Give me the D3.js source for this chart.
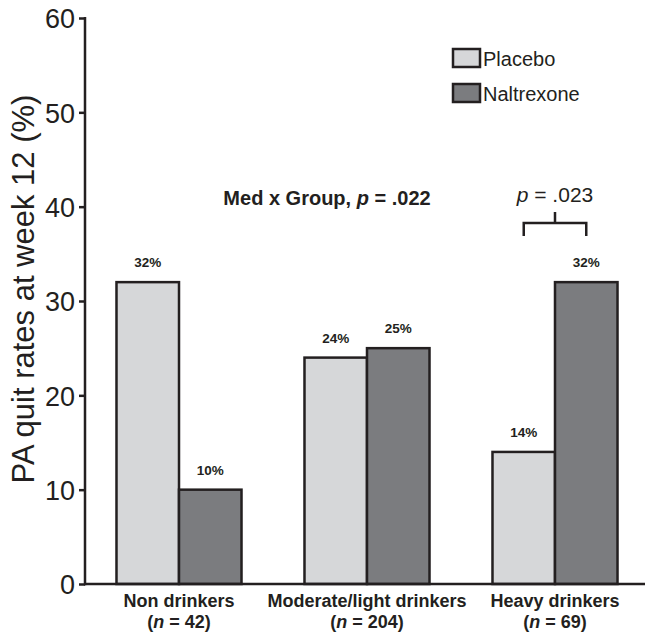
<!doctype html>
<html>
<head>
  <meta charset="utf-8">
  <title>PA quit rates</title>
  <script src="https://cdnjs.cloudflare.com/ajax/libs/d3/7.8.5/d3.min.js"></script>
  <style>
    body { margin: 0; background: #fff; }
    text { font-family: "Liberation Sans", Arial, sans-serif; fill: #231f20; }
  </style>
</head>
<body>
  <div id="chart"></div>
  <script>
    // data
    const groups = ["Non drinkers", "Moderate/light drinkers", "Heavy drinkers"];
    const groupN = ["42", "204", "69"];
    const series = ["Placebo", "Naltrexone"];
    const placebo = [32, 24, 14];
    const naltrexone = [10, 25, 32];
    const yTicks = [0, 10, 20, 30, 40, 50, 60];
    const colors = ["#d6d7d9", "#7b7c7f"];

    const width = 645, height = 633;
    const ink = "#231f20";

    const svg = d3.select("#chart").append("svg")
      .attr("width", width)
      .attr("height", height);

    const x = d3.scaleBand()
      .domain(groups)
      .range([85, 649])
      .paddingInner(0.335)
      .paddingOuter(0.1675);

    const xs = d3.scaleBand()
      .domain(series)
      .range([0, x.bandwidth()]);

    const y = d3.scaleLinear()
      .domain([0, 60])
      .range([584, 18]);

    // bars
    const rows = groups.map((g, i) => ({ g, vals: [placebo[i], naltrexone[i]] }));
    const gg = svg.selectAll("g.grp")
      .data(rows)
      .join("g")
      .attr("class", "grp")
      .attr("transform", d => `translate(${x(d.g)},0)`);

    gg.selectAll("rect")
      .data(d => d.vals.map((v, j) => ({ s: series[j], v, j })))
      .join("rect")
      .attr("x", d => xs(d.s))
      .attr("y", d => y(d.v))
      .attr("width", xs.bandwidth())
      .attr("height", d => y(0) - y(d.v))
      .attr("fill", d => colors[d.j])
      .attr("stroke", ink)
      .attr("stroke-width", 2.5);

    gg.selectAll("text.val")
      .data(d => d.vals.map((v, j) => ({ s: series[j], v })))
      .join("text")
      .attr("class", "val")
      .attr("x", d => xs(d.s) + xs.bandwidth() / 2)
      .attr("y", d => y(d.v) - 15)
      .attr("text-anchor", "middle")
      .attr("font-size", 13.5)
      .attr("font-weight", "bold")
      .text(d => d.v + "%");

    // axes
    const yAxis = svg.append("g")
      .attr("transform", "translate(85,0)")
      .call(d3.axisLeft(y).tickValues(yTicks).tickSize(6).tickPadding(4));
    yAxis.select(".domain").remove();
    yAxis.selectAll(".tick line").attr("stroke", ink).attr("stroke-width", 2.5);
    yAxis.selectAll(".tick text")
      .attr("font-size", 27)
      .attr("font-family", "Liberation Sans, Arial, sans-serif")
      .attr("fill", ink)
      .attr("dy", "0.36em");

    svg.append("line")
      .attr("x1", 85).attr("x2", 85)
      .attr("y1", y(60) - 1).attr("y2", y(0) + 1.25)
      .attr("stroke", ink).attr("stroke-width", 2.5);
    svg.append("line")
      .attr("x1", 84).attr("x2", width)
      .attr("y1", y(0)).attr("y2", y(0))
      .attr("stroke", ink).attr("stroke-width", 2.5);

    svg.append("text")
      .attr("transform", "translate(34,289) rotate(-90)")
      .attr("text-anchor", "middle")
      .attr("font-size", 31)
      .text("PA quit rates at week 12 (%)");

    // x labels
    const xl = svg.selectAll("g.xl")
      .data(groups.map((g, i) => ({ g, n: groupN[i] })))
      .join("g")
      .attr("class", "xl")
      .attr("transform", d => `translate(${x(d.g) + x.bandwidth() / 2},0)`);
    xl.append("text")
      .attr("y", 607)
      .attr("text-anchor", "middle")
      .attr("font-size", 18)
      .attr("font-weight", "bold")
      .text(d => d.g);
    const nl = xl.append("text")
      .attr("y", 628)
      .attr("text-anchor", "middle")
      .attr("font-size", 18)
      .attr("font-weight", "bold");
    nl.append("tspan").text("(");
    nl.append("tspan").attr("font-style", "italic").text("n");
    nl.append("tspan").text(d => " = " + d.n + ")");

    // legend
    const lg = svg.selectAll("g.lg")
      .data(series)
      .join("g")
      .attr("class", "lg")
      .attr("transform", (d, i) => `translate(453,${49 + i * 35})`);
    lg.append("rect")
      .attr("width", 27).attr("height", 18)
      .attr("fill", (d, i) => colors[i])
      .attr("stroke", ink).attr("stroke-width", 2.5);
    lg.append("text")
      .attr("x", 30).attr("y", 17)
      .attr("font-size", 20)
      .text(d => d);

    // interaction annotation
    const med = svg.append("text")
      .attr("x", 327).attr("y", 205)
      .attr("text-anchor", "middle")
      .attr("font-size", 20)
      .attr("font-weight", "bold");
    med.append("tspan").text("Med x Group, ");
    med.append("tspan").attr("font-style", "italic").text("p");
    med.append("tspan").text(" = .022");

    // heavy drinkers comparison bracket
    const hx = x(groups[2]);
    const cx0 = hx + xs(series[0]) + xs.bandwidth() / 2;
    const cx1 = hx + xs(series[1]) + xs.bandwidth() / 2;
    const cm = (cx0 + cx1) / 2;
    svg.append("path")
      .attr("d", `M${cx0},236V223H${cx1}V236M${cm},223V212`)
      .attr("fill", "none")
      .attr("stroke", ink).attr("stroke-width", 2.5);
    const pt = svg.append("text")
      .attr("x", cm).attr("y", 202)
      .attr("text-anchor", "middle")
      .attr("font-size", 21);
    pt.append("tspan").attr("font-style", "italic").text("p");
    pt.append("tspan").text(" = .023");
  </script>
</body>
</html>
